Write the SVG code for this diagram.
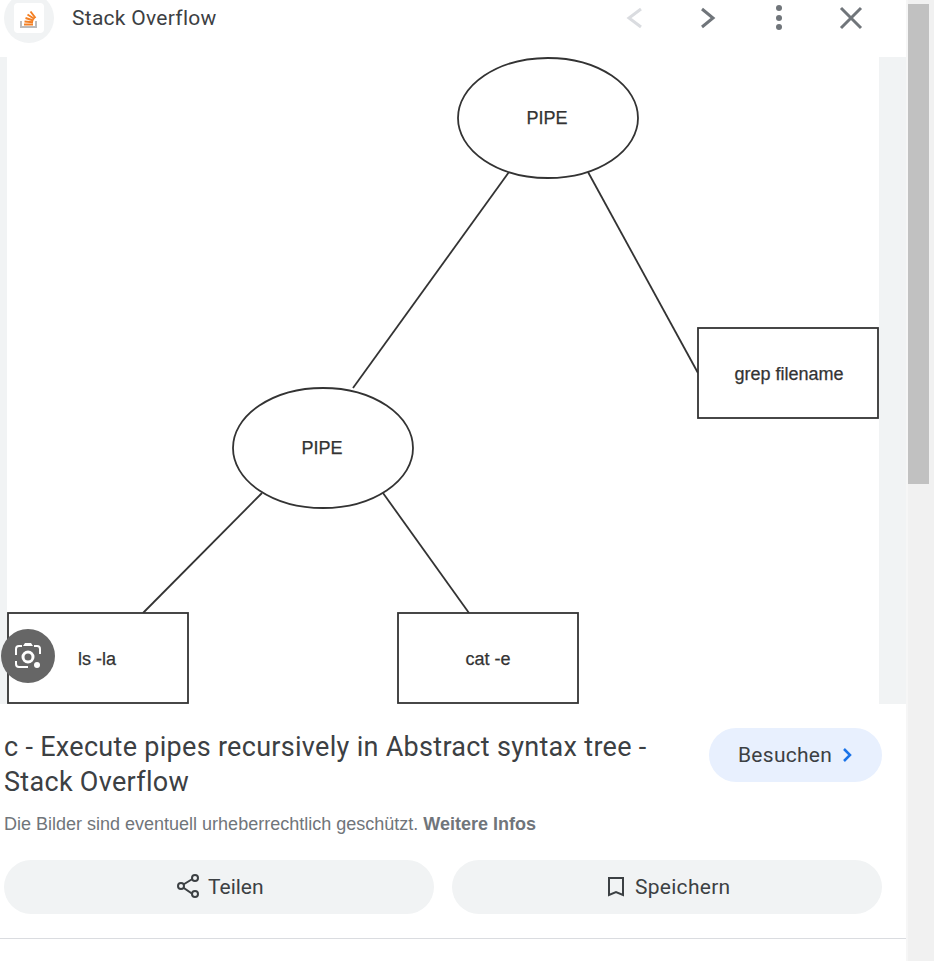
<svg xmlns="http://www.w3.org/2000/svg" width="934" height="961" viewBox="0 0 934 961">
<style>
.shape{fill:#fff;stroke:#333;stroke-width:1.800}
.lbl{font-family:"Liberation Sans",Arial,sans-serif;font-size:18px;fill:#333;stroke:#333;stroke-width:.25;text-anchor:middle}
.ui{font-family:Roboto,"Noto Sans",sans-serif;fill:#3c4043}
.tt{font-size:27px;letter-spacing:.3px}
.sm{font-size:21px;letter-spacing:.28px}
.btn{fill:#f1f3f4}
.ic{fill:none;stroke:#70757a;stroke-width:3}
</style>
<rect width="934" height="961" fill="#fff"/>
<rect x="906" y="0" width="28" height="961" fill="#f1f1f1"/>
<rect x="906" y="0" width="2" height="961" fill="#f6f6f6"/>
<rect x="908" y="4" width="21" height="480" fill="#c1c1c1"/>
<rect x="0" y="57" width="7" height="647" fill="#f1f3f4"/>
<rect x="879" y="57" width="27" height="647" fill="#f1f3f4"/>
<g id="connectors" fill="none" stroke="#333" stroke-width="1.800">
<line x1="509" y1="172" x2="353" y2="388"/>
<line x1="588" y1="172" x2="698" y2="373"/>
<line x1="262" y1="493" x2="143" y2="613"/>
<line x1="383" y1="493" x2="469" y2="613"/>
</g>
<g id="node-pipe-top"><ellipse class="shape" cx="548" cy="118" rx="90" ry="60"/><text class="lbl" x="547" y="124">PIPE</text></g>
<g id="node-grep"><rect class="shape" x="698" y="328" width="180" height="90"/><text class="lbl" x="789" y="380">grep filename</text></g>
<g id="node-pipe-left"><ellipse class="shape" cx="323" cy="448" rx="90" ry="60"/><text class="lbl" x="322" y="454">PIPE</text></g>
<g id="node-ls"><rect class="shape" x="8" y="613" width="180" height="90"/><text class="lbl" x="97" y="665">ls -la</text></g>
<g id="node-cat"><rect class="shape" x="398" y="613" width="180" height="90"/><text class="lbl" x="488" y="665">cat -e</text></g>
<g id="header">
<circle cx="29" cy="18" r="25" fill="#f1f3f4"/>
<rect x="14" y="3" width="30" height="30" rx="4" fill="#fff"/>
<path d="M21 21v6h15v-6" fill="none" stroke="#bcbbbb" stroke-width="2"/>
<path d="M24 24.500h9M24.500 21.500l8.500 .8M25.500 18l8 2.500M27.500 14.500l7 4.500M30.500 11.500l5 6.500" fill="none" stroke="#f48024" stroke-width="2"/>
<text class="ui sm" x="72" y="25">Stack Overflow</text>
<path d="M641 9l-12 9 12 9" fill="none" stroke="#dadce0" stroke-width="3"/>
<path class="ic" d="M702 9l11 9-11 9"/>
<circle cx="779" cy="8" r="3" fill="#70757a"/><circle cx="779" cy="18" r="3" fill="#70757a"/><circle cx="779" cy="27" r="3" fill="#70757a"/>
<path class="ic" d="M841 8l20 20M861 8l-20 20"/>
</g>
<g id="lens">
<circle cx="28" cy="656" r="27" fill="#666"/>
<path d="M22 646h-3a3 3 0 0 0-3 3v6M34 646h3a3 3 0 0 1 3 3v5M16 661v3a3 3 0 0 0 3 3h9" fill="none" stroke="#fff" stroke-width="2"/>
<path d="M23 646l2-3h6l2 3" fill="#fff"/>
<circle cx="28" cy="657" r="5" fill="none" stroke="#fff" stroke-width="3"/>
<circle cx="37" cy="665" r="3" fill="#fff"/>
</g>
<g id="title">
<text class="ui tt" x="4" y="756">c - Execute pipes recursively in Abstract syntax tree -</text>
<text class="ui tt" x="4" y="791">Stack Overflow</text>
<text x="4" y="830" font-family="Liberation Sans,Arial,sans-serif" font-size="18" fill="#70757a">Die Bilder sind eventuell urheberrechtlich geschützt. <tspan font-weight="bold">Weitere Infos</tspan></text>
</g>
<g id="visit">
<rect x="709" y="728" width="173" height="54" rx="27" fill="#e8f0fe"/>
<text class="ui sm" x="738" y="762">Besuchen</text>
<path d="M844 749l6 6-6 6" fill="none" stroke="#1a73e8" stroke-width="2.500"/>
</g>
<g id="share">
<rect class="btn" x="4" y="860" width="430" height="54" rx="27"/>
<path d="M194 878l-13 8 13 9" fill="none" stroke="#3c4043" stroke-width="2"/>
<circle cx="195" cy="878" r="3" fill="#f1f3f4" stroke="#3c4043" stroke-width="2"/><circle cx="181" cy="886" r="3" fill="#f1f3f4" stroke="#3c4043" stroke-width="2"/><circle cx="195" cy="894" r="3" fill="#f1f3f4" stroke="#3c4043" stroke-width="2"/>
<text class="ui" x="208" y="894" font-size="21">Teilen</text>
</g>
<g id="save">
<rect class="btn" x="452" y="860" width="430" height="54" rx="27"/>
<path d="M609 878h14v17l-7-3-7 3z" fill="none" stroke="#3c4043" stroke-width="2"/>
<text class="ui sm" x="635" y="894">Speichern</text>
</g>
<rect x="0" y="938" width="906" height="1" fill="#dadce0"/>
</svg>
